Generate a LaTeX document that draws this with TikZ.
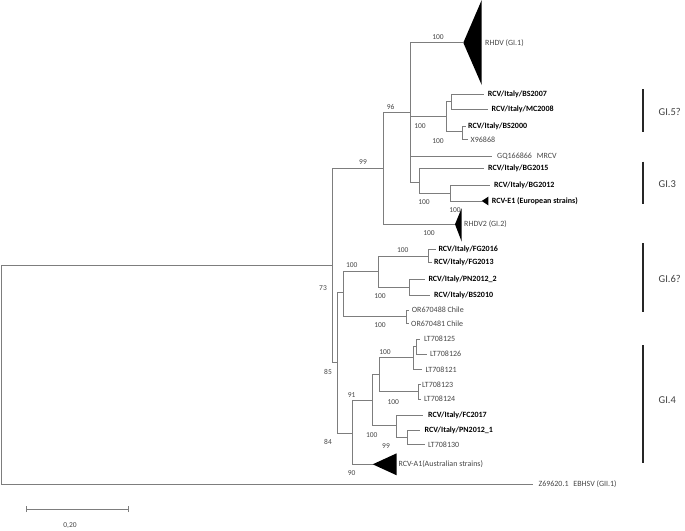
\documentclass[tikz,border=0pt]{standalone}
\usepackage{fontspec}
\setmainfont{Carlito}
\definecolor{linegray}{RGB}{125,125,125}
\definecolor{tipgray}{RGB}{70,70,70}
\begin{document}
\begin{tikzpicture}[x=1pt,y=-1pt,
  br/.style={draw=linegray,line width=0.8pt},
  tip/.style={anchor=west,inner sep=0pt,font=\fontsize{8}{9}\selectfont,text=tipgray},
  tipb/.style={anchor=west,inner sep=0pt,font=\fontsize{8}{9}\selectfont\bfseries,text=black},
  bs/.style={inner sep=0pt,font=\fontsize{7.5}{8}\selectfont,text=tipgray},
  grp/.style={anchor=west,inner sep=0pt,font=\fontsize{10.5}{12}\selectfont,text=black!75},
  gbar/.style={draw=black!85,line width=1.1pt},
  tri/.style={fill=black}]
\useasboundingbox (0,0) rectangle (685,530);
% internal nodes
\coordinate (R) at (1,265);
\coordinate (A) at (332.5,265);
\coordinate (n99) at (383.5,168.3);
\coordinate (n96) at (410.7,112.3);
\coordinate (g5) at (446,116.7);
\coordinate (n57) at (451,101.7);
\coordinate (n00) at (462.7,131.7);
\coordinate (g3) at (419,182);
\coordinate (n12) at (450,193);
\coordinate (B) at (337,362);
\coordinate (g6) at (343.3,292);
\coordinate (H) at (378.3,271.3);
\coordinate (FG) at (428.3,256);
\coordinate (PB) at (409,287);
\coordinate (OR) at (406.7,316.7);
\coordinate (C) at (352.3,433);
\coordinate (D) at (372.7,400);
\coordinate (E) at (379.3,374.7);
\coordinate (F1) at (413.3,357.7);
\coordinate (F2) at (416,346.5);
\coordinate (L34) at (418.3,391.7);
\coordinate (F) at (396.7,425);
\coordinate (G) at (407.3,437.2);
% tip ends
\coordinate (tRHDV) at (463.3,42.7);
\coordinate (tBS2007) at (484,94);
\coordinate (tMC2008) at (488,109);
\coordinate (tBS2000) at (465.5,126.7);
\coordinate (tX) at (468,139.3);
\coordinate (tGQ) at (492,156);
\coordinate (tBG2015) at (484,168.3);
\coordinate (tBG2012) at (490,185);
\coordinate (tE1) at (481.7,201);
\coordinate (tRHDV2) at (455,224.3);
\coordinate (tFG2016) at (436,249.3);
\coordinate (tFG2013) at (432,262.7);
\coordinate (tPN2) at (425,279.3);
\coordinate (tBS2010) at (430,295);
\coordinate (tOR88) at (409,310);
\coordinate (tOR81) at (409,323.3);
\coordinate (t25) at (420,339);
\coordinate (t26) at (426.7,354);
\coordinate (t21) at (421.7,369.3);
\coordinate (t23) at (420.5,384.3);
\coordinate (t24) at (421,399);
\coordinate (tFC) at (423.3,415);
\coordinate (tPN1) at (420,430);
\coordinate (t30) at (425,444.3);
\coordinate (tA1) at (372.7,464.3);
\coordinate (tZ) at (533.3,484.3);
% branches
\draw[br] (R) |- (A);
\draw[br] (R) |- (tZ);
\draw[br] (A) |- (n99);
\draw[br] (A) |- (B);
\draw[br] (n99) |- (n96);
\draw[br] (n99) |- (tRHDV2);
\draw[br] (n96) |- (tRHDV);
\draw[br] (n96) |- (g5);
\draw[br] (n96) |- (tGQ);
\draw[br] (n96) |- (g3);
\draw[br] (g5) |- (n57);
\draw[br] (g5) |- (n00);
\draw[br] (n57) |- (tBS2007);
\draw[br] (n57) |- (tMC2008);
\draw[br] (n00) |- (tBS2000);
\draw[br] (n00) |- (tX);
\draw[br] (g3) |- (tBG2015);
\draw[br] (g3) |- (n12);
\draw[br] (n12) |- (tBG2012);
\draw[br] (n12) |- (tE1);
\draw[br] (B) |- (g6);
\draw[br] (B) |- (C);
\draw[br] (g6) |- (H);
\draw[br] (g6) |- (OR);
\draw[br] (H) |- (FG);
\draw[br] (H) |- (PB);
\draw[br] (FG) |- (tFG2016);
\draw[br] (FG) |- (tFG2013);
\draw[br] (PB) |- (tPN2);
\draw[br] (PB) |- (tBS2010);
\draw[br] (OR) |- (tOR88);
\draw[br] (OR) |- (tOR81);
\draw[br] (C) |- (D);
\draw[br] (C) |- (tA1);
\draw[br] (D) |- (E);
\draw[br] (D) |- (F);
\draw[br] (E) |- (F1);
\draw[br] (E) |- (L34);
\draw[br] (F1) |- (F2);
\draw[br] (F1) |- (t21);
\draw[br] (F2) |- (t25);
\draw[br] (F2) |- (t26);
\draw[br] (L34) |- (t23);
\draw[br] (L34) |- (t24);
\draw[br] (F) |- (tFC);
\draw[br] (F) |- (G);
\draw[br] (G) |- (tPN1);
\draw[br] (G) |- (t30);
% collapsed clades
\fill[tri] (tRHDV) -- (481.7,0) -- (481.7,85) -- cycle;
\fill[tri] (tE1) -- (488.3,196.7) -- (488.3,205.3) -- cycle;
\fill[tri] (tRHDV2) -- (461.7,208) -- (461.7,241.7) -- cycle;
\fill[tri] (tA1) -- (396.7,453.3) -- (396.7,475.3) -- cycle;
% tip labels
\node[tip] (lRHDV) at (485,42.7) {RHDV (GI.1)};
\node[tipb] (lBS2007) at (487.7,94) {RCV/Italy/BS2007};
\node[tipb] (lMC2008) at (491.5,109) {RCV/Italy/MC2008};
\node[tipb] (lBS2000) at (468,126.7) {RCV/Italy/BS2000};
\node[tip] (lX) at (470.5,139.3) {X96868};
\node[tip] (lGQ) at (497,156) {GQ166866\hspace{3pt} MRCV};
\node[tipb] (lBG2015) at (488,168.3) {RCV/Italy/BG2015};
\node[tipb] (lBG2012) at (494,185) {RCV/Italy/BG2012};
\node[tipb] (lE1) at (491.7,201) {RCV-E1 (European strains)};
\node[tip] (lRHDV2) at (464,224.3) {RHDV2 (GI.2)};
\node[tipb] (lFG2016) at (438.3,249.3) {RCV/Italy/FG2016};
\node[tipb] (lFG2013) at (434,262.7) {RCV/Italy/FG2013};
\node[tipb] (lPN2) at (428.3,279.3) {RCV/Italy/PN2012\_2};
\node[tipb] (lBS2010) at (434,295) {RCV/Italy/BS2010};
\node[tip] (lOR88) at (411.7,310) {OR670488 Chile};
\node[tip] (lOR81) at (411,323.3) {OR670481 Chile};
\node[tip] (l25) at (424,339) {LT708125};
\node[tip] (l26) at (430,354) {LT708126};
\node[tip] (l21) at (425.5,369.3) {LT708121};
\node[tip] (l23) at (422,384.3) {LT708123};
\node[tip] (l24) at (424,399) {LT708124};
\node[tipb] (lFC) at (428,415) {RCV/Italy/FC2017};
\node[tipb] (lPN1) at (424.5,430) {RCV/Italy/PN2012\_1};
\node[tip] (l30) at (428,444.3) {LT708130};
\node[tip] (lA1) at (398.3,464.3) {RCV-A1(Australian strains)};
\node[tip] (lZ) at (538.3,484.3) {Z69620.1\hspace{3pt} EBHSV (GII.1)};
% bootstrap values
\node[bs] (b1) at (438,37) {100};
\node[bs] (b2) at (390.7,106.5) {96};
\node[bs] (b3) at (420,125.7) {100};
\node[bs] (b4) at (438,141) {100};
\node[bs] (b5) at (363,162) {99};
\node[bs] (b6) at (424,202) {100};
\node[bs] (b7) at (455,210) {100};
\node[bs] (b8) at (429,233) {100};
\node[bs] (b9) at (402.7,250) {100};
\node[bs] (b10) at (351.7,265) {100};
\node[bs] (b11) at (323,288) {73};
\node[bs] (b12) at (380,295.7) {100};
\node[bs] (b13) at (380,325) {100};
\node[bs] (b14) at (385,352) {100};
\node[bs] (b15) at (328,372) {85};
\node[bs] (b16) at (351.7,395) {91};
\node[bs] (b17) at (393.3,401.7) {100};
\node[bs] (b18) at (371.7,435) {100};
\node[bs] (b19) at (328,442) {84};
\node[bs] (b20) at (386,445.7) {99};
\node[bs] (b21) at (351.7,473.3) {90};
% group bars
\coordinate (g5a) at (643,89.3);  \coordinate (g5b) at (643,131.7);
\coordinate (g3a) at (643,161.7); \coordinate (g3b) at (643,204);
\coordinate (g6a) at (643,243.3); \coordinate (g6b) at (643,311.7);
\coordinate (g4a) at (643,345);   \coordinate (g4b) at (643,463);
\draw[gbar] (g5a) -- (g5b);
\draw[gbar] (g3a) -- (g3b);
\draw[gbar] (g6a) -- (g6b);
\draw[gbar] (g4a) -- (g4b);
\node[grp] (G5) at (658.5,111.5) {GI.5?};
\node[grp] (G3) at (658.5,184) {GI.3};
\node[grp] (G6) at (658.5,279) {GI.6?};
\node[grp] (G4) at (658.5,400) {GI.4};
% scale bar
\coordinate (sa) at (26,509);
\coordinate (sb) at (128,509);
\draw[br] (sa) -- (sb);
\draw[br] ([yshift=-3pt]sa) -- ([yshift=3pt]sa);
\draw[br] ([yshift=-3pt]sb) -- ([yshift=3pt]sb);
\node[bs] (sl) at (70,526) {0,20};
\end{tikzpicture}
\end{document}
